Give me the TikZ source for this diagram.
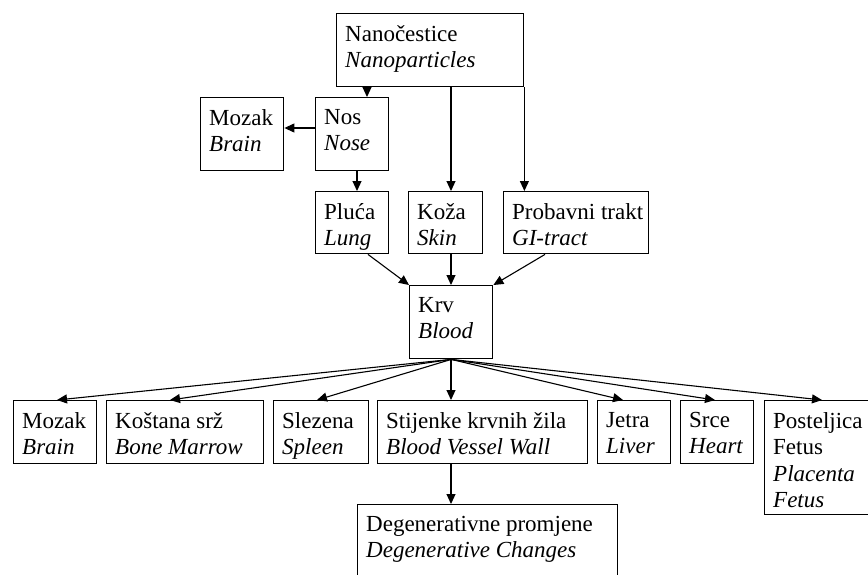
\documentclass[tikz,border=0pt]{standalone}
\usepackage{fontspec}
\setmainfont{Liberation Serif}
\usetikzlibrary{arrows.meta}
\tikzset{
  boxst/.style={draw=black, line width=1.4pt, rectangle, inner sep=0pt, anchor=north west},
  txt/.style={align=left, inner sep=0pt, anchor=north west, font=\fontsize{23}{26.5}\selectfont},
  arr/.style={line width=1.1pt, -{Triangle[length=10pt,width=9pt]}}
}
\newcommand\mybox[6]{%
  \node[boxst, minimum width={(#4-#2)*1pt}, minimum height={(#5-#3)*1pt}] (#1) at (#2,#3) {};
  \node[txt] (#1t) at ([xshift=9pt,yshift=-12pt]#1.north west) {#6};
}
\begin{document}
\begin{tikzpicture}[x=1pt,y=-1pt]
\useasboundingbox (0,0) rectangle (868,574);
\fill[white] (0,0) rectangle (868,574);
\clip (0,0) rectangle (868,574);

\mybox{nano}{336}{13}{523}{86}{Nanočestice\\\textit{Nanoparticles}}
\mybox{mozakA}{200}{97}{283}{170}{Mozak\\\textit{Brain}}
\mybox{nos}{315}{97}{388}{170}{Nos\\\textit{Nose}}
\mybox{pluca}{315}{191}{388}{253}{Pluća\\\textit{Lung}}
\mybox{koza}{408}{191}{482}{253}{Koža\\\textit{Skin}}
\mybox{prob}{503}{191}{648}{253}{Probavni trakt\\\textit{GI-tract}}
\mybox{krv}{409}{285}{492}{358}{Krv\\\textit{Blood}}
\mybox{mozakB}{13}{400}{96}{463}{Mozak\\\textit{Brain}}
\mybox{kost}{106}{400}{263}{463}{Koštana srž\\\textit{Bone Marrow}}
\mybox{slez}{273}{400}{368}{463}{Slezena\\\textit{Spleen}}
\mybox{stij}{377}{400}{587}{463}{Stijenke krvnih žila\\\textit{Blood Vessel Wall}}
\mybox{jetra}{597}{400}{670}{463}{Jetra\\\textit{Liver}}
\mybox{srce}{680}{400}{753}{463}{Srce\\\textit{Heart}}
\mybox{post}{764}{400}{878}{514}{Posteljica\\Fetus\\\textit{Placenta}\\\textit{Fetus}}
\mybox{degen}{357}{504}{617}{582}{Degenerativne promjene\\\textit{Degenerative Changes}}

\coordinate (xa) at (367,0);
\coordinate (xb) at (451,0);
\coordinate (xc) at (357,0);
\coordinate (xd) at (368,0);
\coordinate (xe) at (545,0);
\coordinate (ya) at (0,128);
\coordinate (t1) at (57,0);
\coordinate (t2) at (170,0);
\coordinate (t3) at (317,0);
\coordinate (t4) at (623,0);
\coordinate (t5) at (715,0);
\coordinate (t6) at (822,0);

\draw[arr] (nano.south -| xa) -- (nos.north -| xa);
\draw[arr] (nano.south -| xb) -- (koza.north -| xb);
\draw[arr] (nano.south east) -- (prob.north -| nano.south east);
\draw[arr] (nos.west |- ya) -- (mozakA.east |- ya);
\draw[arr] (nos.south -| xc) -- (pluca.north -| xc);
\draw[arr] (pluca.south -| xd) -- (krv.north west);
\draw[arr] (koza.south -| xb) -- (krv.north -| xb);
\draw[arr] (prob.south -| xe) -- (krv.north east);

\draw[arr] (krv.south) -- (mozakB.north -| t1);
\draw[arr] (krv.south) -- (kost.north -| t2);
\draw[arr] (krv.south) -- (slez.north -| t3);
\draw[arr] (krv.south -| xb) -- (stij.north -| xb);
\draw[arr] (krv.south) -- (jetra.north -| t4);
\draw[arr] (krv.south) -- (srce.north -| t5);
\draw[arr] (krv.south) -- (post.north -| t6);
\draw[arr] (stij.south -| xb) -- (degen.north -| xb);
\end{tikzpicture}
\end{document}
